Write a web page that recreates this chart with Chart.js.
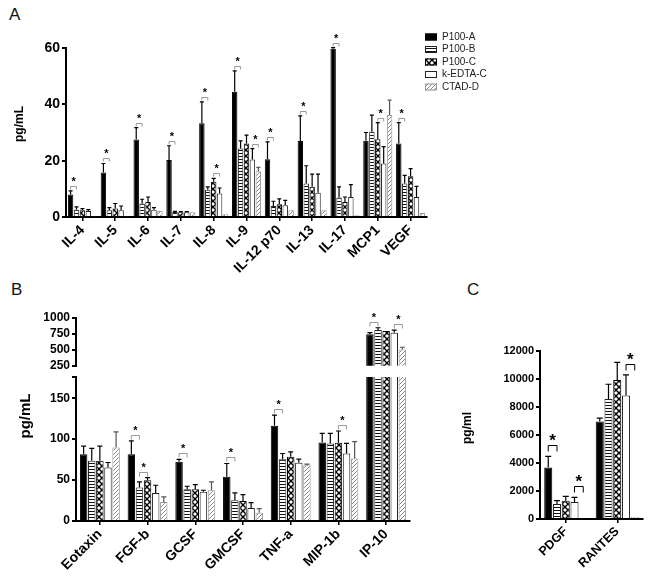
<!DOCTYPE html>
<html lang="en">
  <head>
    <meta charset="UTF-8" />
    <title>Cytokine levels by tube type</title>
    <script src="https://cdn.jsdelivr.net/npm/chart.js"></script>
    <style>
      body {
        margin: 0;
        background-color: #fff;
      }
      #wrap {
        position: relative;
        width: 648px;
        height: 588px;
        font-family: "Liberation Sans", Arial, sans-serif;
      }
      canvas {
        position: absolute;
      }
      .panel {
        position: absolute;
        font-size: 17px;
        line-height: 17px;
        color: #111;
      }
    </style>
  </head>
  <body>
    <div id="wrap">
      <div class="panel" style="left: 9px; top: 6px">A</div>
      <div class="panel" style="left: 11px; top: 281px">B</div>
      <div class="panel" style="left: 467px; top: 281px">C</div>
      <canvas id="chartA" style="left: 0; top: 0" width="520" height="300"></canvas>
      <canvas id="chartBTop" style="left: 0; top: 300px" width="420" height="75"></canvas>
      <canvas id="chartBLow" style="left: 0; top: 340px" width="420" height="248"></canvas>
      <canvas id="chartC" style="left: 460px; top: 300px" width="188" height="288"></canvas>
    </div>
    <script>
      const FONT = "'Liberation Sans', Arial, sans-serif";
      const seriesNames = ["P100-A", "P100-B", "P100-C", "k-EDTA-C", "CTAD-D"];

      // panel A
      const catsA = ["IL-4", "IL-5", "IL-6", "IL-7", "IL-8", "IL-9", "IL-12 p70", "IL-13", "IL-17", "MCP1", "VEGF"];
      const a_p100a = [8.0, 15.8, 27.5, 20.2, 33.3, 44.5, 20.5, 27.0, 59.7, 27.1, 26.1];
      const a_p100b = [2.6, 2.4, 4.8, 1.8, 9.7, 24.3, 3.9, 11.9, 6.9, 30.3, 11.9];
      const a_p100c = [2.4, 3.0, 5.3, 1.7, 12.5, 26.1, 4.5, 10.7, 5.3, 27.6, 14.5];
      const a_kedta = [2.1, 2.4, 2.6, 1.7, 8.3, 20.4, 4.2, 8.6, 7.1, 19.0, 7.1];
      const a_ctad = [0.3, 0.3, 2.1, 1.7, 1.0, 16.2, 2.4, 2.4, 0.6, 36.2, 1.4];
      const aErr_p100a = [1.3, 3.2, 4.2, 5.1, 7.6, 7.4, 6.2, 8.9, 0.4, 2.9, 7.4];
      const aErr_p100b = [1.0, 0.9, 1.5, 0.2, 1.0, 2.7, 1.7, 6.3, 3.8, 5.9, 2.9];
      const aErr_p100c = [0.6, 1.8, 1.8, 0.2, 1.2, 3.0, 1.9, 4.5, 1.8, 5.9, 2.7];
      const aErr_kedta = [0.5, 1.5, 0.7, 0.2, 2.0, 3.9, 1.7, 6.6, 4.4, 6.0, 3.8];
      const aErr_ctad = [0, 0, 0, 0, 0, 1.4, 0, 0, 0, 5.3, 0];
      const ticksA = [0, 20, 40, 60];
      // [category, series from, series to]
      const sigA = [[0, 0, 1], [1, 0, 1], [2, 0, 1], [3, 0, 1], [4, 0, 1], [4, 2, 3], [5, 0, 1], [5, 3, 4], [6, 0, 1], [7, 0, 1], [8, 0, 1], [9, 2, 3], [10, 0, 1]];

      // panel B
      const catsB = ["Eotaxin", "FGF-b", "GCSF", "GMCSF", "TNF-a", "MIP-1b", "IP-10"];
      const b_p100a = [81.7, 81.7, 72.3, 54.0, 116.5, 96.0, 745];
      const b_p100b = [73.6, 40.9, 38.8, 25.3, 75.6, 94.8, 810];
      const b_p100c = [73.6, 49.9, 38.8, 24.5, 78.5, 95.6, 795];
      const b_kedta = [65.4, 34.3, 35.6, 15.9, 71.1, 82.5, 770];
      const b_ctad = [89.9, 23.3, 37.6, 10.2, 68.2, 76.4, 505];
      const bErr_p100a = [9.8, 16.3, 2.9, 16.3, 13.0, 11.0, 25];
      const bErr_p100b = [15.1, 6.9, 3.7, 9.0, 6.9, 12.2, 37];
      const bErr_p100c = [17.9, 3.2, 5.7, 7.8, 6.1, 14.4, 0];
      const bErr_kedta = [6.1, 9.4, 2.0, 6.6, 4.5, 12.3, 40];
      const bErr_ctad = [19.1, 6.1, 10.2, 4.9, 1.3, 20.5, 36];
      const ticksBTop = [250, 500, 750, 1000];
      const ticksBLow = [0, 50, 100, 150];
      const bLowMax = 176;
      const sigB = [[1, 0, 1], [1, 1, 2], [2, 0, 1], [3, 0, 1], [4, 0, 1], [5, 2, 3], [6, 0, 1], [6, 3, 4]];

      // panel C
      const catsC = ["PDGF", "RANTES"];
      const c_p100a = [3683, 6962];
      const c_p100b = [1069, 8578];
      const c_p100c = [1307, 9933];
      const c_kedta = [1212, 8816];
      const c_ctad = [71, 143];
      const cErr_p100a = [784, 238];
      const cErr_p100b = [238, 1046];
      const cErr_p100c = [309, 1259];
      const cErr_kedta = [333, 1473];
      const cErr_ctad = [0, 0];
      const ticksC = [0, 2000, 4000, 6000, 8000, 10000, 12000];
      const sigC = [[0, 0, 1], [0, 3, 4], [1, 3, 4]];

      function makePattern(w, h, draw) {
        const c = document.createElement("canvas");
        c.width = w;
        c.height = h;
        const g = c.getContext("2d");
        g.fillStyle = "#fff";
        g.fillRect(0, 0, w, h);
        draw(g);
        return g.createPattern(c, "repeat");
      }

      const fills = [
        "#000",
        makePattern(4, 3, (g) => {
          g.fillStyle = "#111";
          g.fillRect(0, 0, 4, 1);
        }),
        makePattern(6, 6, (g) => {
          g.strokeStyle = "#000";
          g.lineWidth = 1.4;
          g.beginPath();
          g.moveTo(0, 0);
          g.lineTo(6, 6);
          g.moveTo(6, 0);
          g.lineTo(0, 6);
          g.stroke();
        }),
        "#fff",
        makePattern(4, 4, (g) => {
          g.strokeStyle = "#888";
          g.lineWidth = 1;
          g.beginPath();
          g.moveTo(-1, 5);
          g.lineTo(5, -1);
          g.stroke();
        }),
      ];
      const borders = ["#000", "#222", "#000", "#222", "#999"];

      function buildDatasets(values, errs) {
        return values.map((v, i) => ({
          label: seriesNames[i],
          data: v,
          errors: errs[i],
          backgroundColor: fills[i],
          borderColor: borders[i],
          borderWidth: 1,
          clip: 0,
        }));
      }

      const errorBars = {
        id: "errorBars",
        afterDatasetsDraw(chart, args, opts) {
          const { ctx, chartArea } = chart;
          const y = chart.scales.y;
          ctx.save();
          ctx.lineWidth = opts.width;
          chart.data.datasets.forEach((ds, i) => {
            ctx.strokeStyle = i === 4 ? "#555" : "#000";
            chart.getDatasetMeta(i).data.forEach((bar, j) => {
              const e = ds.errors[j];
              if (!e) return;
              const yv = y.getPixelForValue(ds.data[j]);
              if (yv < chartArea.top - 0.5 || yv > chartArea.bottom) return;
              const ye = y.getPixelForValue(ds.data[j] + e);
              ctx.beginPath();
              ctx.moveTo(bar.x, yv);
              ctx.lineTo(bar.x, ye);
              ctx.moveTo(bar.x - opts.cap / 2, ye);
              ctx.lineTo(bar.x + opts.cap / 2, ye);
              ctx.stroke();
            });
          });
          ctx.restore();
        },
      };

      const sigMarks = {
        id: "sigMarks",
        afterDatasetsDraw(chart, args, opts) {
          const { ctx, chartArea } = chart;
          const y = chart.scales.y;
          ctx.save();
          opts.pairs.forEach(([c, a, b]) => {
            const tops = [a, b].map((s) => {
              const ds = chart.data.datasets[s];
              return y.getPixelForValue(ds.data[c] + (ds.errors[c] || 0));
            });
            const top = Math.min(...tops);
            if (top < chartArea.top - 30 || top > chartArea.bottom) return;
            const x1 = chart.getDatasetMeta(a).data[c].x;
            const x2 = chart.getDatasetMeta(b).data[c].x;
            const yb = Math.round(top - opts.gap) + 0.5;
            ctx.strokeStyle = opts.color;
            ctx.lineWidth = 1;
            ctx.beginPath();
            ctx.moveTo(x1, yb + opts.leg);
            ctx.lineTo(x1, yb);
            ctx.lineTo(x2, yb);
            ctx.lineTo(x2, yb + opts.leg);
            ctx.stroke();
            ctx.fillStyle = "#000";
            ctx.font = opts.font;
            ctx.textAlign = "center";
            ctx.textBaseline = "alphabetic";
            ctx.fillText("*", (x1 + x2) / 2, yb - opts.starGap);
          });
          ctx.restore();
        },
      };

      const sideTitle = {
        id: "sideTitle",
        afterDraw(chart, args, opts) {
          if (!opts.text) return;
          const ctx = chart.ctx;
          ctx.save();
          ctx.translate(opts.x, opts.y);
          ctx.rotate(-Math.PI / 2);
          ctx.font = opts.font;
          ctx.fillStyle = "#000";
          ctx.textAlign = "center";
          ctx.textBaseline = "middle";
          ctx.fillText(opts.text, 0, 0);
          ctx.restore();
        },
      };

      const boxLegend = {
        id: "boxLegend",
        afterDraw(chart, args, opts) {
          if (!opts.display) return;
          const ctx = chart.ctx;
          ctx.save();
          ctx.font = "10px " + FONT;
          ctx.textBaseline = "middle";
          chart.data.datasets.forEach((ds, i) => {
            const yy = opts.y + i * opts.step;
            ctx.fillStyle = ds.backgroundColor;
            ctx.fillRect(opts.x, yy - 3.5, 12, 7);
            ctx.strokeStyle = ds.borderColor;
            ctx.lineWidth = 1;
            ctx.strokeRect(opts.x + 0.5, yy - 3, 11, 6);
            ctx.fillStyle = "#222";
            ctx.fillText(ds.label, opts.x + 17, yy);
          });
          ctx.restore();
        },
      };

      function yAxis(min, max, ticks, width, size, labelled) {
        return {
          min: min,
          max: max,
          afterBuildTicks: (s) => {
            s.ticks = ticks.map((v) => ({ value: v }));
          },
          afterFit: (s) => {
            s.width = width;
          },
          border: { color: "#000", width: 2 },
          grid: { drawOnChartArea: false, color: "#000", lineWidth: 2, tickLength: 4 },
          ticks: {
            color: "#000",
            padding: 2,
            autoSkip: false,
            font: { family: FONT, size: size, weight: "bold" },
            callback: (v) => (labelled.includes(v) ? String(v) : ""),
          },
        };
      }

      function xAxis(height, size) {
        return {
          afterFit: (s) => {
            s.height = height;
          },
          border: { color: "#000", width: 2 },
          grid: { offset: false, drawOnChartArea: false, color: "#000", lineWidth: 1.5, tickLength: 4 },
          ticks: {
            color: "#000",
            autoSkip: false,
            minRotation: 45,
            maxRotation: 45,
            padding: 1,
            font: { family: FONT, size: size, weight: "bold" },
          },
        };
      }

      function makeChart(id, cats, datasets, opts) {
        return new Chart(document.getElementById(id), {
          type: "bar",
          data: { labels: cats, datasets: datasets },
          options: {
            responsive: false,
            animation: false,
            categoryPercentage: opts.catPct,
            barPercentage: 0.92,
            layout: { padding: opts.padding },
            scales: { x: opts.x, y: opts.y },
            plugins: {
              legend: { display: false },
              tooltip: { enabled: false },
              errorBars: { width: 1.2, cap: opts.cap },
              sigMarks: opts.sig,
              sideTitle: opts.title || {},
              boxLegend: opts.legend || { display: false },
            },
          },
          plugins: [errorBars, sigMarks, sideTitle, boxLegend],
        });
      }

      makeChart(
        "chartA",
        catsA,
        buildDatasets(
          [a_p100a, a_p100b, a_p100c, a_kedta, a_ctad],
          [aErr_p100a, aErr_p100b, aErr_p100c, aErr_kedta, aErr_ctad]
        ),
        {
          catPct: 0.9,
          cap: 4,
          padding: { top: 48, right: 93, left: 0, bottom: 0 },
          x: xAxis(83, 14),
          y: yAxis(0, 60, ticksA, 66, 14, ticksA),
          sig: { pairs: sigA, gap: 5, leg: 3, color: "#999", starGap: 1.5, font: "bold 11px " + FONT },
          title: { text: "pg/mL", x: 20, y: 124, font: "bold 12px " + FONT },
          legend: { display: true, x: 425, y: 37, step: 12.5 },
        }
      );

      const bValues = [b_p100a, b_p100b, b_p100c, b_kedta, b_ctad];
      const bErrs = [bErr_p100a, bErr_p100b, bErr_p100c, bErr_kedta, bErr_ctad];

      makeChart("chartBTop", catsB, buildDatasets(bValues, bErrs), {
        catPct: 0.85,
        cap: 5,
        padding: { top: 18, right: 10, left: 0, bottom: 8 },
        x: { display: false },
        y: yAxis(250, 1000, ticksBTop, 76, 12, ticksBTop),
        sig: { pairs: sigB, gap: 6, leg: 4, color: "#999", starGap: 1.5, font: "bold 11px " + FONT },
      });

      makeChart("chartBLow", catsB, buildDatasets(bValues, bErrs), {
        catPct: 0.85,
        cap: 5,
        padding: { top: 37, right: 10, left: 0, bottom: 0 },
        x: xAxis(67, 14),
        y: yAxis(0, bLowMax, ticksBLow.concat([bLowMax]), 76, 12, ticksBLow),
        sig: { pairs: sigB, gap: 6, leg: 4, color: "#999", starGap: 1.5, font: "bold 11px " + FONT },
        title: { text: "pg/mL", x: 26, y: 76, font: "bold 15px " + FONT },
      });

      makeChart(
        "chartC",
        catsC,
        buildDatasets(
          [c_p100a, c_p100b, c_p100c, c_kedta, c_ctad],
          [cErr_p100a, cErr_p100b, cErr_p100c, cErr_kedta, cErr_ctad]
        ),
        {
          catPct: 0.85,
          cap: 6,
          padding: { top: 51, right: 5, left: 0, bottom: 0 },
          x: xAxis(69, 12.5),
          y: yAxis(0, 12000, ticksC, 80, 11, ticksC),
          sig: { pairs: sigC, gap: 11, leg: 6, color: "#000", starGap: 0, font: "bold 17px " + FONT },
          title: { text: "pg/ml", x: 8, y: 128, font: "bold 12px " + FONT },
        }
      );
    </script>
  </body>
</html>
